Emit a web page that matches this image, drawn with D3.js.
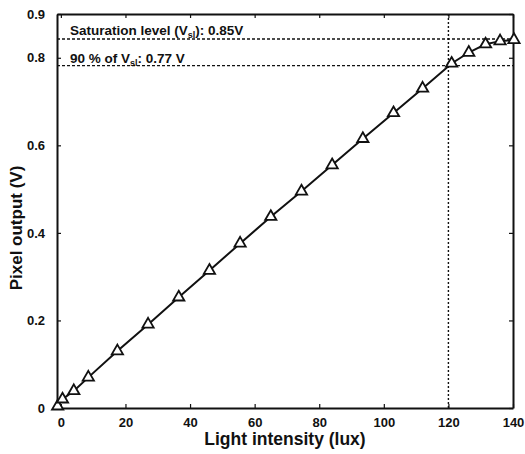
<!DOCTYPE html>
<html lang="en">
<head>
    <meta charset="UTF-8">
    <title>Pixel output vs light intensity</title>
    <script src="https://d3js.org/d3.v7.min.js"></script>
    <style>
        body{ margin: 0; background: white; }
        text{ font-family: "Liberation Sans", Arial, sans-serif; font-weight: bold; fill: #111; }
        .axis path, .axis line{ stroke: #111; }
    </style>
</head>
<body>
<svg id="main" width="525" height="454"></svg>
<script>
    // data
    let lux = [-1, 0.5, 4, 8.5, 17.5, 27, 36.5, 46, 55.5, 65, 74.5, 84, 93.5, 103, 112, 121, 126.3, 131.5, 136, 140.3];
    let volts = [0.004, 0.02, 0.039, 0.07, 0.13, 0.191, 0.253, 0.314, 0.376, 0.437, 0.495, 0.555, 0.615, 0.674, 0.73, 0.787, 0.812, 0.831, 0.838, 0.841];
    let xTicks = [0, 20, 40, 60, 80, 100, 120, 140];
    let yTicks = [0, 0.2, 0.4, 0.6, 0.8, 0.9];
    let satLevel = 0.843;
    let ninetyLevel = 0.782;
    let kneeLux = 120;

    let svg = d3.select('svg#main');
    let xScale = d3.scaleLinear().domain([-1.2, 140]).range([57, 513]);
    let yScale = d3.scaleLinear().domain([0, 0.9]).range([408, 14]);

    let yFmt = function(d){ return d === 0 ? '0' : d3.format('.1f')(d); };

    // axes, ticks pointing inwards
    svg.append('g').attr('class', 'axis')
        .attr('transform', 'translate(0,408)')
        .call(d3.axisBottom(xScale).tickValues(xTicks).tickSizeInner(-4).tickSizeOuter(0).tickPadding(10))
        .call(g => g.selectAll('text').style('font-size', '13px'));
    svg.append('g').attr('class', 'axis')
        .attr('transform', 'translate(0,14)')
        .call(d3.axisTop(xScale).tickValues(xTicks).tickSizeInner(-4).tickSizeOuter(0).tickFormat(''));
    svg.append('g').attr('class', 'axis')
        .attr('transform', 'translate(57,0)')
        .call(d3.axisLeft(yScale).tickValues(yTicks).tickSizeInner(-4).tickSizeOuter(0).tickPadding(12).tickFormat(yFmt))
        .call(g => g.selectAll('text').style('font-size', '13px'));
    svg.append('g').attr('class', 'axis')
        .attr('transform', 'translate(513,0)')
        .call(d3.axisRight(yScale).tickValues(yTicks).tickSizeInner(-4).tickSizeOuter(0).tickFormat(''));
    svg.selectAll('.axis path').attr('stroke-width', 2);
    svg.selectAll('.axis line').attr('stroke-width', 1.2);

    // reference lines
    let refs = [satLevel, ninetyLevel];
    svg.selectAll('line.ref')
        .data(refs)
        .enter()
        .append('line')
        .attr('class', 'ref')
        .attr('x1', xScale(-1.2)).attr('x2', xScale(140))
        .attr('y1', d => yScale(d)).attr('y2', d => yScale(d))
        .attr('stroke', '#111').attr('stroke-width', 1.4)
        .attr('stroke-dasharray', '3,2');
    svg.append('line')
        .attr('x1', xScale(kneeLux)).attr('x2', xScale(kneeLux))
        .attr('y1', yScale(0)).attr('y2', yScale(0.9))
        .attr('stroke', '#111').attr('stroke-width', 1.4)
        .attr('stroke-dasharray', '2,2');

    // annotations
    let t1 = svg.append('text').attr('x', 70).attr('y', 35).style('font-size', '13.5px');
    t1.append('tspan').text('Saturation level (V');
    t1.append('tspan').attr('dy', 3).style('font-size', '9px').text('sl');
    t1.append('tspan').attr('dy', -3).text('): 0.85V');
    let t2 = svg.append('text').attr('x', 70).attr('y', 63).style('font-size', '13.5px');
    t2.append('tspan').text('90 % of V');
    t2.append('tspan').attr('dy', 3).style('font-size', '9px').text('sl');
    t2.append('tspan').attr('dy', -3).text(': 0.77 V');

    // series
    let pts = lux.map((d, i) => [d, volts[i]]);
    let line = d3.line()
        .x(d => xScale(d[0]))
        .y(d => yScale(d[1]));
    svg.append('path')
        .datum(pts)
        .attr('d', line)
        .attr('fill', 'none')
        .attr('stroke', '#111')
        .attr('stroke-width', 2);
    svg.selectAll('path.mark')
        .data(pts)
        .enter()
        .append('path')
        .attr('class', 'mark')
        .attr('transform', d => 'translate(' + xScale(d[0]) + ',' + yScale(d[1]) + ')')
        .attr('d', d3.symbol().type(d3.symbolTriangle).size(55))
        .attr('fill', 'white')
        .attr('stroke', '#111')
        .attr('stroke-width', 1.8);

    // axis titles
    svg.append('text')
        .attr('x', 285).attr('y', 445)
        .attr('text-anchor', 'middle')
        .style('font-size', '17.5px')
        .text('Light intensity (lux)');
    svg.append('text')
        .attr('transform', 'translate(22,228) rotate(-90)')
        .attr('text-anchor', 'middle')
        .style('font-size', '17px')
        .text('Pixel output (V)');
</script>
</body>
</html>
